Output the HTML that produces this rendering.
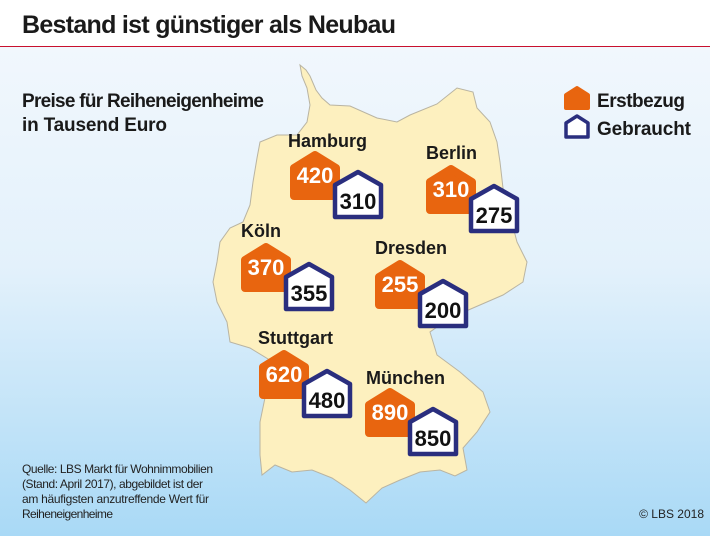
<!DOCTYPE html>
<html><head><meta charset="utf-8"><style>
html,body{margin:0;padding:0;width:710px;height:536px;overflow:hidden;background:#fff}
svg{display:block;font-family:"Liberation Sans","DejaVu Sans",sans-serif}
</style></head><body>
<svg width="710" height="536" viewBox="0 0 710 536">
<defs>
<linearGradient id="bg" x1="0" y1="0" x2="0" y2="1">
<stop offset="0" stop-color="#f1f7fd"/><stop offset="0.45" stop-color="#e3f1fb"/><stop offset="1" stop-color="#a9d9f6"/>
</linearGradient>
</defs>
<rect x="0" y="0" width="710" height="46" fill="#fff"/>
<text x="22" y="33" font-size="25" font-weight="bold" fill="#1a1a1a" textLength="374">Bestand ist günstiger als Neubau</text>
<rect x="0" y="46" width="710" height="1.2" fill="#c8102e"/>
<rect x="0" y="47" width="710" height="489" fill="url(#bg)"/>

<path fill="#fdf0bf" stroke="#b9b4a2" stroke-width="1"
d="M300,65 L306,70 L310,76 L316,90 L322,98 L330,105 L350,106 L377,118 L397,122 L410,115 L437,104 L457,88 L473,92 L477,108 L490,122 L497,142 L500,162 L503,188 L510,215 L517,242 L527,262 L523,282 L503,295 L473,308 L450,318 L430,332 L437,355 L460,372 L483,392 L490,412 L477,432 L463,448 L467,470 L455,476 L440,470 L420,472 L400,480 L382,488 L366,503 L350,490 L332,478 L312,470 L292,472 L275,465 L262,475 L260,455 L260,422 L267,388 L273,362 L250,348 L230,342 L227,322 L217,302 L213,282 L217,262 L220,242 L230,228 L243,222 L250,205 L253,182 L257,158 L260,142 L277,135 L297,135 L307,122 L310,105 L307,88 L302,76 Z"/>

<text x="22" y="107" font-size="19" font-weight="bold" fill="#1a1a1a" textLength="242">Preise für Reiheneigenheime</text>
<text x="22" y="131" font-size="19" font-weight="bold" fill="#1a1a1a" textLength="145">in Tausend Euro</text>

<g>
<path d="M566,95 L577,88 L588,95 L588,108 L566,108 Z" fill="#e8650f" stroke="#e8650f" stroke-width="4" stroke-linejoin="round"/>
<text x="597" y="107" font-size="19" font-weight="bold" fill="#1a1a1a" textLength="88">Erstbezug</text>
<path d="M566,123 L577,116 L588,123 L588,137 L566,137 Z" fill="#fff" stroke="#2a2e7e" stroke-width="3.5" stroke-linejoin="round"/>
<text x="597" y="135" font-size="19" font-weight="bold" fill="#1a1a1a" textLength="94">Gebraucht</text>
</g>

<g id="cities"></g>

<g font-size="12" fill="#222">
<text x="22" y="473" textLength="191">Quelle: LBS Markt für Wohnimmobilien</text>
<text x="22" y="488" textLength="181">(Stand: April 2017), abgebildet ist der</text>
<text x="22" y="503" textLength="187">am häufigsten anzutreffende Wert für</text>
<text x="22" y="518" textLength="91">Reiheneigenheime</text>
</g>
<text x="704" y="518" font-size="12" fill="#222" text-anchor="end">© LBS 2018</text>
</svg>
<script>
const cityNames = ["Hamburg","Berlin","Köln","Dresden","Stuttgart","München"];
const erstbezug = [420,310,370,255,620,890];
const gebraucht = [310,275,355,200,480,850];
const ns = "http://www.w3.org/2000/svg";
const anchors = [[290,151],[426,165],[241,243],[375,260],[259,350],[365,388]];
const labelOffsets = [[-2,-4],[0,-6],[0,-6],[0,-6],[-1,-6],[1,-4]];
const g = document.getElementById('cities');
function house(x,y,w,h,fill,stroke,sw){
  const p=document.createElementNS(ns,'path');
  const peak=13;
  p.setAttribute('d',`M${x},${y+peak} L${x+w/2},${y} L${x+w},${y+peak} L${x+w},${y+h} L${x},${y+h} Z`);
  p.setAttribute('fill',fill);p.setAttribute('stroke',stroke);
  p.setAttribute('stroke-width',sw);p.setAttribute('stroke-linejoin','round');
  return p;
}
function txt(x,y,s,size,fill,anchor){
  const t=document.createElementNS(ns,'text');
  t.setAttribute('x',x);t.setAttribute('y',y);t.setAttribute('font-size',size);
  t.setAttribute('font-weight','bold');t.setAttribute('fill',fill);
  if(anchor)t.setAttribute('text-anchor',anchor);
  t.textContent=s;return t;
}
cityNames.forEach((c,i)=>{
  const [x,y]=anchors[i];
  const grp=document.createElementNS(ns,'g');
  
  
  const lab=txt(x+labelOffsets[i][0],y+labelOffsets[i][1],c,18,'#1a1a1a');
  
  
  grp.appendChild(lab);
  const h1=house(x+4,y+4,42,41,'#e8650f','#e8650f',8);
  
  
  grp.appendChild(h1);
  const v1=txt(x+25,y+32,String(erstbezug[i]),22,'#fff','middle');
  
  
  grp.appendChild(v1);
  const bx=x+45,by=y+21;
  const h2=house(bx,by,46,45,'#fff','#2a2e7e',4.5);
  
  
  grp.appendChild(h2);
  const v2=txt(bx+23,by+37,String(gebraucht[i]),22,'#111','middle');
  
  
  grp.appendChild(v2);
  g.appendChild(grp);
});
</script>
</body></html>
